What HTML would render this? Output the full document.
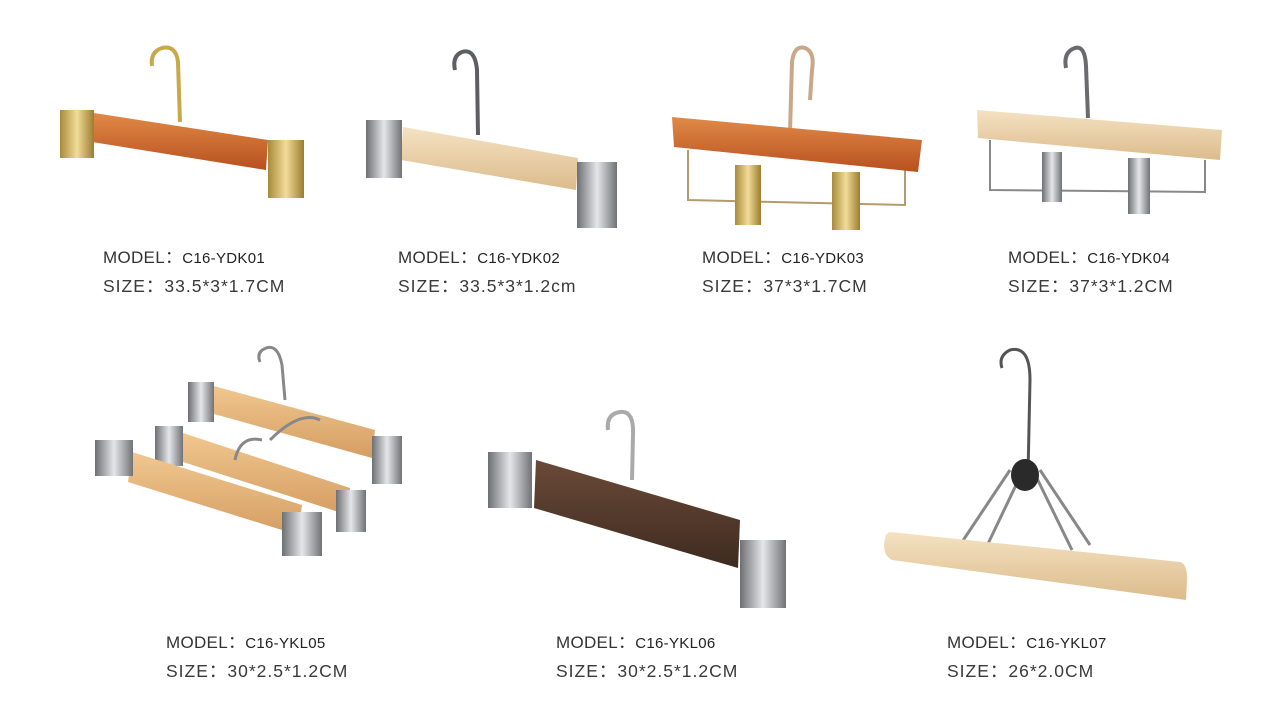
<!DOCTYPE html>
<html><head><meta charset="utf-8"><style>
html,body{margin:0;padding:0;background:#fff;width:1280px;height:720px;overflow:hidden;position:relative}
.t{position:absolute;font-family:"Liberation Sans","Noto Sans CJK SC",sans-serif;color:#333;font-size:17px;white-space:nowrap;letter-spacing:0.3px}
.t span{font-size:15px;color:#222}
.s{font-size:17.5px;letter-spacing:1px;color:#3a3a3a}
svg{position:absolute;left:0;top:0}
</style></head><body>
<svg width="1280" height="720" viewBox="0 0 1280 720">
<defs>
<linearGradient id="gold" x1="0" x2="1"><stop offset="0" stop-color="#a88a3a"/><stop offset=".5" stop-color="#f2dc98"/><stop offset="1" stop-color="#9c7c30"/></linearGradient>
<linearGradient id="chrome" x1="0" x2="1"><stop offset="0" stop-color="#6d6f73"/><stop offset=".5" stop-color="#e4e6ea"/><stop offset="1" stop-color="#707276"/></linearGradient>
<linearGradient id="orange" x1="0" y1="0" x2="0" y2="1"><stop offset="0" stop-color="#e08a48"/><stop offset="1" stop-color="#b8501e"/></linearGradient>
<linearGradient id="light" x1="0" y1="0" x2="0" y2="1"><stop offset="0" stop-color="#f4e2c2"/><stop offset="1" stop-color="#dcbb8c"/></linearGradient>
<linearGradient id="beech" x1="0" y1="0" x2="0" y2="1"><stop offset="0" stop-color="#f0c890"/><stop offset="1" stop-color="#d59d62"/></linearGradient>
<linearGradient id="brown" x1="0" y1="0" x2="0" y2="1"><stop offset="0" stop-color="#6a4a38"/><stop offset="1" stop-color="#3e2a20"/></linearGradient>
</defs>
<path d="M180 122 L178 62 Q176 45 162 48 Q150 52 152 66" fill="none" stroke="#c9a84a" stroke-width="4"/>
<polygon points="94,113 268,140 266,170 92,142" fill="url(#orange)"/>
<rect x="60" y="110" width="34" height="48" fill="url(#gold)"/>
<rect x="268" y="140" width="36" height="58" fill="url(#gold)"/>
<path d="M478 135 L477 70 Q475 48 462 52 Q452 56 455 70" fill="none" stroke="#5d5e62" stroke-width="4"/>
<polygon points="403,127 578,158 576,190 401,160" fill="url(#light)"/>
<rect x="366" y="120" width="36" height="58" fill="url(#chrome)"/>
<rect x="577" y="162" width="40" height="66" fill="url(#chrome)"/>
<path d="M790 132 L792 62 Q794 45 805 48 Q815 52 812 70 L810 100" fill="none" stroke="#c8a888" stroke-width="4"/>
<polyline points="688,150 688,200 905,205 905,165" fill="none" stroke="#b59a70" stroke-width="2"/>
<polygon points="672,117 922,140 918,172 674,147" fill="url(#orange)"/>
<rect x="735" y="165" width="26" height="60" fill="url(#gold)"/>
<rect x="832" y="172" width="28" height="58" fill="url(#gold)"/>
<path d="M1088 118 L1086 66 Q1085 45 1075 48 Q1063 52 1066 68" fill="none" stroke="#6b6b6f" stroke-width="4"/>
<polyline points="990,140 990,190 1205,192 1205,160" fill="none" stroke="#888" stroke-width="2"/>
<polygon points="977,110 1222,130 1220,160 978,138" fill="url(#light)"/>
<rect x="1042" y="152" width="20" height="50" fill="url(#chrome)"/>
<rect x="1128" y="158" width="22" height="56" fill="url(#chrome)"/>
<path d="M285 400 L282 365 Q278 344 266 348 Q256 352 260 362" fill="none" stroke="#888" stroke-width="3"/>
<polygon points="210,385 375,430 372,458 207,412" fill="url(#beech)"/>
<rect x="188" y="382" width="26" height="40" fill="url(#chrome)"/>
<rect x="372" y="436" width="30" height="48" fill="url(#chrome)"/>
<path d="M270 440 Q300 410 320 420" fill="none" stroke="#888" stroke-width="3"/>
<polygon points="180,432 350,488 348,515 177,460" fill="url(#beech)"/>
<rect x="155" y="426" width="28" height="40" fill="url(#chrome)"/>
<rect x="336" y="490" width="30" height="42" fill="url(#chrome)"/>
<path d="M235 460 Q240 435 262 440" fill="none" stroke="#888" stroke-width="3"/>
<polygon points="132,452 302,505 298,535 128,482" fill="url(#beech)"/>
<rect x="95" y="440" width="38" height="36" fill="url(#chrome)"/>
<rect x="282" y="512" width="40" height="44" fill="url(#chrome)"/>
<path d="M632 480 L633 435 Q634 410 620 412 Q606 414 608 430" fill="none" stroke="#aaa" stroke-width="4"/>
<polygon points="536,460 740,520 738,568 534,508" fill="url(#brown)"/>
<rect x="488" y="452" width="44" height="56" fill="url(#chrome)"/>
<rect x="740" y="540" width="46" height="68" fill="url(#chrome)"/>
<path d="M1028 475 L1030 380 Q1030 345 1010 350 Q998 356 1002 368" fill="none" stroke="#555" stroke-width="3"/>
<path d="M1028 460 L985 550 M1028 460 L1072 550 M1010 470 L960 545 M1040 470 L1090 545" stroke="#888" stroke-width="3"/>
<ellipse cx="1025" cy="475" rx="14" ry="16" fill="#2a2a2a"/>
<path d="M890 532 L1180 562 Q1188 564 1187 582 L1186 600 L892 560 Q884 556 884 545 Q885 532 890 532 Z" fill="url(#light)"/>
</svg>
<div class="t" style="left:103px;top:243px">MODEL：<span>C16-YDK01</span></div>
<div class="t s" style="left:103px;top:273px">SIZE：33.5*3*1.7CM</div>
<div class="t" style="left:398px;top:243px">MODEL：<span>C16-YDK02</span></div>
<div class="t s" style="left:398px;top:273px">SIZE：33.5*3*1.2cm</div>
<div class="t" style="left:702px;top:243px">MODEL：<span>C16-YDK03</span></div>
<div class="t s" style="left:702px;top:273px">SIZE：37*3*1.7CM</div>
<div class="t" style="left:1008px;top:243px">MODEL：<span>C16-YDK04</span></div>
<div class="t s" style="left:1008px;top:273px">SIZE：37*3*1.2CM</div>
<div class="t" style="left:166px;top:628px">MODEL：<span>C16-YKL05</span></div>
<div class="t s" style="left:166px;top:658px">SIZE：30*2.5*1.2CM</div>
<div class="t" style="left:556px;top:628px">MODEL：<span>C16-YKL06</span></div>
<div class="t s" style="left:556px;top:658px">SIZE：30*2.5*1.2CM</div>
<div class="t" style="left:947px;top:628px">MODEL：<span>C16-YKL07</span></div>
<div class="t s" style="left:947px;top:658px">SIZE：26*2.0CM</div>
</body></html>
